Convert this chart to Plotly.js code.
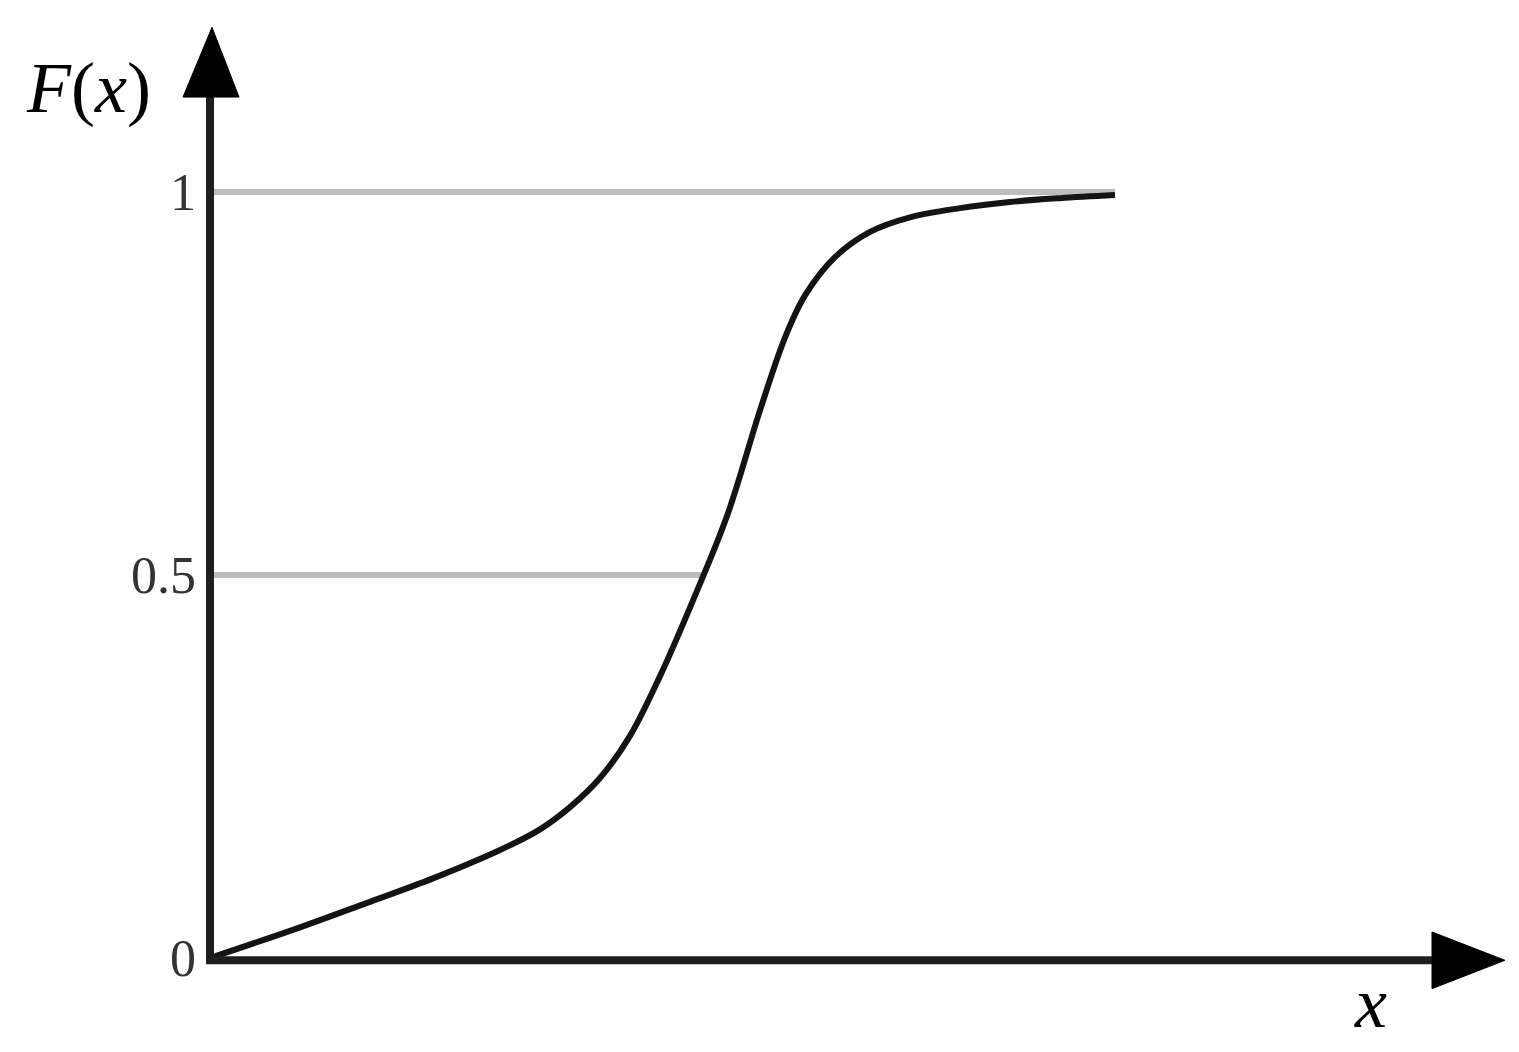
<!DOCTYPE html>
<html><head><meta charset="utf-8">
<script src="https://cdn.plot.ly/plotly-3.0.1.min.js"></script>
<style>html,body{margin:0;padding:0;background:#fff}#chart{width:1519px;height:1052px}</style>
</head><body><div id="chart"></div>
<script>
// CDF curve (x in arbitrary units, F(x) in [0,1])
const curveX = [0, 0.9, 1.57, 2.23, 2.9, 3.3, 3.6, 3.9, 4.2, 4.5, 4.83, 5.17, 5.5, 5.75, 5.95, 6.25, 6.6, 7.0, 7.5, 8.0, 8.5, 9.05];
const curveF = [0, 0.040, 0.072, 0.104, 0.141, 0.168, 0.197, 0.235, 0.290, 0.368, 0.467, 0.577, 0.715, 0.810, 0.865, 0.915, 0.948, 0.967, 0.979, 0.987, 0.992, 0.996];
// reference lines
const refLevels = [1, 0.5];
const refEndX = [9.05, 4.93];
// tick labels
const tickVals = [0, 0.5, 1];
const tickText = ['0', '0.5', '1'];

const traces = [];
refLevels.forEach((lv, i) => {
  traces.push({x: [0, refEndX[i]], y: [lv, lv], mode: 'lines', line: {color: '#bdbdbd', width: 6}, hoverinfo: 'skip', showlegend: false});
});
traces.push({x: curveX, y: curveF, mode: 'lines', line: {color: '#141414', width: 6, shape: 'spline', smoothing: 1}, showlegend: false});

const axCol = '#1e1e1e';
const layout = {
  width: 1519, height: 1052,
  margin: {l: 0, r: 0, t: 0, b: 0},
  paper_bgcolor: '#fff', plot_bgcolor: '#fff',
  showlegend: false,
  xaxis: {range: [-2.10, 13.09], showgrid: false, zeroline: false, showline: false, showticklabels: false, ticks: '', fixedrange: true},
  yaxis: {range: [-0.1227, 1.2507], anchor: 'free', position: 0.1383, showgrid: false, zeroline: false, showline: false,
          tickvals: tickVals, ticktext: tickText, ticks: '', ticklabelstandoff: 14,
          tickfont: {family: 'Liberation Serif, serif', size: 52, color: '#333'}, fixedrange: true},
  shapes: [
    {type: 'line', xref: 'x', yref: 'y', x0: 0, y0: -0.004, x1: 0, y1: 1.13, line: {color: axCol, width: 8}},
    {type: 'line', xref: 'x', yref: 'y', x0: -0.04, y0: -0.003, x1: 12.25, y1: -0.003, line: {color: axCol, width: 8}},
    {type: 'path', xref: 'x', yref: 'y', path: 'M -0.27,1.124 L 0.02,1.215 L 0.29,1.124 Z', fillcolor: '#000', line: {color: '#000', width: 1}},
    {type: 'path', xref: 'x', yref: 'y', path: 'M 12.22,0.034 L 12.95,-0.003 L 12.22,-0.040 Z', fillcolor: '#000', line: {color: '#000', width: 1}}
  ],
  annotations: [
    {xref: 'paper', yref: 'paper', x: 88/1519, y: 1 - 88/1052, text: '<i>F</i>(<i>x</i>)', showarrow: false,
     font: {family: 'Liberation Serif, serif', size: 72, color: '#000'}, xanchor: 'center', yanchor: 'middle'},
    {xref: 'paper', yref: 'paper', x: 1370/1519, y: 1 - 1003/1052, text: '<i>x</i>', showarrow: false,
     font: {family: 'Liberation Serif, serif', size: 72, color: '#000'}, xanchor: 'center', yanchor: 'middle'}
  ]
};
Plotly.newPlot('chart', traces, layout, {displayModeBar: false, staticPlot: true});
</script></body></html>
